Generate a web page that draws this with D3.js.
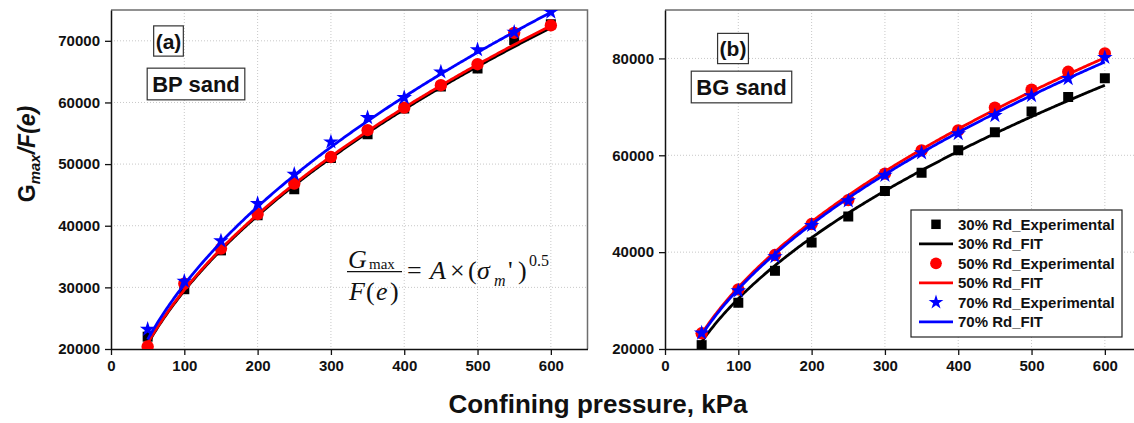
<!DOCTYPE html>
<html>
<head>
<meta charset="utf-8">
<script src="https://cdn.jsdelivr.net/npm/d3@7"></script>
<style>
  html, body { margin: 0; padding: 0; background: #fff; }
  svg { display: block; }
</style>
</head>
<body>
<svg id="chart" width="1134" height="423"></svg>
<script>
// Confining pressure (kPa) at which each test was run
const pressure = [50, 100, 150, 200, 250, 300, 350, 400, 450, 500, 550, 600];

// BP sand: Gmax/F(e) per relative density
const bp30 = [22000, 29700, 36000, 41700, 45900, 51000, 54850, 59000, 62600, 65500, 70150, 72700];
const bp50 = [20400, 30600, 36300, 41900, 46850, 51150, 55500, 59150, 62800, 66200, 71300, 72500];
const bp70 = [23200, 31000, 37550, 43600, 48350, 53600, 57550, 60800, 64950, 68550, 71400, 74650];

// BG sand: Gmax/F(e) per relative density
const bg30 = [20800, 29550, 36150, 42000, 47350, 52650, 56400, 61050, 64750, 69050, 72050, 75900];
const bg50 = [23250, 32300, 39400, 45800, 50750, 56200, 61000, 65150, 69850, 73550, 77250, 81050];
const bg70 = [23300, 32000, 39050, 45500, 50600, 55850, 60500, 64450, 68200, 72300, 75850, 80200];

// Fitted coefficient A in Gmax/F(e) = A * (sigma_m')^0.5, order 30 / 50 / 70 % Rd
const fitA_bp = [2944, 2958, 3046];
const fitA_bg = [3040, 3272, 3236];

const xTicks = [0, 100, 200, 300, 400, 500, 600];
const yTicks_bp = [20000, 30000, 40000, 50000, 60000, 70000];
const yTicks_bg = [20000, 40000, 60000, 80000];

const seriesNames = ["30% Rd", "50% Rd", "70% Rd"];
const colors = ["#000000", "#ff0000", "#0000ff"];
const shapes = [d3.symbolSquare, d3.symbolCircle, d3.symbolStar];
const shapeSize = [100, 120, 75];

const svg = d3.select("#chart");
const font = 'Arial, "Liberation Sans", sans-serif';

function panel(opts) {
  const x = d3.scaleLinear().domain([0, 650]).range([opts.left, opts.left + 476.5]);
  const y = d3.scaleLinear().domain(opts.yDomain).range([349, 10]);
  const g = svg.append("g");

  // clip region for the plot area
  const clipId = "clip-" + opts.key;
  svg.append("clipPath").attr("id", clipId)
    .append("rect").attr("x", x(0)).attr("y", 10).attr("width", x(650) - x(0)).attr("height", 339);

  // dotted grid
  g.selectAll(".vgrid").data(xTicks.filter(d => d > 0)).join("line")
    .attr("x1", d => x(d)).attr("x2", d => x(d)).attr("y1", 10).attr("y2", 349)
    .attr("stroke", "#c8c8c8").attr("stroke-width", 1).attr("stroke-dasharray", "1,2");
  g.selectAll(".hgrid").data(opts.yTicks.filter(d => d > opts.yDomain[0])).join("line")
    .attr("x1", x(0)).attr("x2", x(650)).attr("y1", d => y(d)).attr("y2", d => y(d))
    .attr("stroke", "#c8c8c8").attr("stroke-width", 1).attr("stroke-dasharray", "1,2");

  // top and right frame
  g.append("path")
    .attr("d", `M${x(0)},${y.range()[1]}H${x(650)}V${y.range()[0]}`)
    .attr("fill", "none").attr("stroke", "#6e6e6e").attr("stroke-width", 1.5);

  // axes
  const ax = g.append("g").attr("transform", `translate(0,349)`)
    .call(d3.axisBottom(x).tickValues(xTicks).tickSize(6).tickSizeOuter(0).tickPadding(5).tickFormat(d3.format("d")));
  const ay = g.append("g").attr("transform", `translate(${x(0)},0)`)
    .call(d3.axisLeft(y).tickValues(opts.yTicks).tickSize(6).tickSizeOuter(0).tickPadding(5).tickFormat(d3.format("d")));
  [ax, ay].forEach(a => {
    a.attr("font-family", font).attr("font-size", 15).attr("font-weight", "bold");
    a.select(".domain").attr("stroke", "#111").attr("stroke-width", 1.5);
    a.selectAll(".tick line").attr("stroke", "#111").attr("stroke-width", 1.3);
    a.selectAll(".tick text").attr("fill", "#111");
  });

  const plot = g.append("g").attr("clip-path", `url(#${clipId})`);
  const curveX = d3.range(50, 600.5, 2);
  opts.series.forEach((vals, i) => {
    const pts = pressure.map((p, k) => [p, vals[k]]);
    // fitted curve
    const A = opts.fitA[i];
    plot.append("path")
      .datum(curveX.map(p => [p, A * Math.sqrt(p)]))
      .attr("d", d3.line().x(d => x(d[0])).y(d => y(d[1])))
      .attr("fill", "none").attr("stroke", colors[i]).attr("stroke-width", 2.8);
    // measured points
    plot.selectAll(null).data(pts).join("path")
      .attr("transform", d => `translate(${x(d[0])},${y(d[1])})`)
      .attr("d", d3.symbol(shapes[i], shapeSize[i]))
      .attr("fill", colors[i]);
  });

  // label boxes
  function boxLabel(txt, cx, cy, size, padX) {
    const lg = g.append("g");
    const r = lg.append("rect");
    const t = lg.append("text").attr("x", cx).attr("y", cy)
      .attr("text-anchor", "middle").attr("dominant-baseline", "central")
      .attr("font-family", font).attr("font-weight", "bold").attr("font-size", size)
      .attr("fill", "#111").text(txt);
    const bb = t.node().getBBox();
    r.attr("x", bb.x - padX).attr("y", cy - size * 0.72)
      .attr("width", bb.width + 2 * padX).attr("height", size * 1.44)
      .attr("fill", "#fff").attr("stroke", "#333").attr("stroke-width", 1.2);
  }
  boxLabel(opts.tag, opts.tagPos[0], opts.tagPos[1], 21, 2);
  boxLabel(opts.name, opts.namePos[0], opts.namePos[1], 22, 5);
  return { x, y, g };
}

panel({
  key: "bp", left: 111, yDomain: [20000, 75000], yTicks: yTicks_bp,
  series: [bp30, bp50, bp70], fitA: fitA_bp,
  tag: "(a)", tagPos: [168.5, 41], name: "BP sand", namePos: [196, 84]
});
panel({
  key: "bg", left: 665, yDomain: [20000, 90000], yTicks: yTicks_bg,
  series: [bg30, bg50, bg70], fitA: fitA_bg,
  tag: "(b)", tagPos: [733, 48.5], name: "BG sand", namePos: [741.5, 87]
});

// fitted relation written on panel (a)
const eq = svg.append("g").attr("font-family", '"Liberation Serif", "Times New Roman", serif').attr("font-size", 26).attr("fill", "#111");
function eqText(t, xx, yy, size, italic) {
  const el = eq.append("text").attr("x", xx).attr("y", yy).text(t);
  if (size) el.attr("font-size", size);
  if (italic) el.attr("font-style", "italic");
}
eqText("G", 348, 268, null, true);
eqText("max", 369, 269, 15, false);
eq.append("line").attr("x1", 347).attr("x2", 402).attr("y1", 271.7).attr("y2", 271.7).attr("stroke", "#111").attr("stroke-width", 1.2);
eqText("F", 349, 300, null, true);
eqText("(", 366, 300, null, false);
eqText("e", 376, 300, null, true);
eqText(")", 390, 300, null, false);
eqText("=", 407, 279, null, false);
eqText("A", 430, 279, null, true);
eqText("×", 450, 279, null, false);
eqText("(", 468, 279, null, false);
eqText("σ", 477, 279, null, true);
eqText("m", 494, 286, 16, true);
eqText("'", 508, 279, null, false);
eqText(")", 518, 279, null, false);
eqText("0.5", 529, 266, 16, false);

// legend on panel (b)
const lg = svg.append("g");
lg.append("rect").attr("x", 911).attr("y", 210).attr("width", 211).attr("height", 127)
  .attr("fill", "#fff").attr("stroke", "#222").attr("stroke-width", 1.2);
seriesNames.forEach((nm, i) => {
  const yExp = 224.3 + i * 39;
  const yFit = yExp + 19.5;
  lg.append("path").attr("transform", `translate(936,${yExp})`)
    .attr("d", d3.symbol(shapes[i], shapeSize[i] * 0.9)).attr("fill", colors[i]);
  lg.append("line").attr("x1", 919).attr("x2", 953).attr("y1", yFit).attr("y2", yFit)
    .attr("stroke", colors[i]).attr("stroke-width", 2.8);
  [[yExp, nm + "_Experimental"], [yFit, nm + "_FIT"]].forEach(([yy, t]) => {
    lg.append("text").attr("x", 958).attr("y", yy).attr("dominant-baseline", "central")
      .attr("font-family", font).attr("font-weight", "bold").attr("font-size", 15).attr("fill", "#111").text(t);
  });
});

// axis titles
svg.append("text").attr("x", 598).attr("y", 413).attr("text-anchor", "middle")
  .attr("font-family", font).attr("font-weight", "bold").attr("font-size", 26).attr("fill", "#111")
  .text("Confining pressure, kPa");

const yt = svg.append("text").attr("transform", "translate(35,154) rotate(-90)")
  .attr("text-anchor", "middle").attr("font-family", font).attr("font-weight", "bold")
  .attr("font-size", 23).attr("fill", "#111");
yt.append("tspan").text("G");
yt.append("tspan").attr("font-size", 15).attr("font-style", "italic").attr("dy", 5).text("max");
yt.append("tspan").attr("font-style", "italic").attr("dy", -5).text("/F(e)");
</script>
</body>
</html>
